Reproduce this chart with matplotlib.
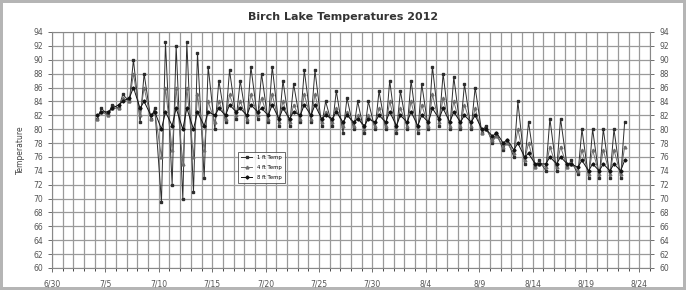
import matplotlib
matplotlib.use("Agg")
import matplotlib.pyplot as plt
import matplotlib.dates as mdates
from matplotlib.ticker import FixedLocator
import numpy as np
import datetime as dt

title = "Birch Lake Temperatures 2012"
ylabel = "Temperature"
series_names = ["1 ft Temp", "4 ft Temp", "8 ft Temp"]

# one reading pair per day: early-morning low and afternoon high (deg F)
start_day = dt.date(2012, 7, 4)
s1_low = [81.5, 82, 83, 84, 81, 81.5, 69.5, 72, 70, 71, 73, 80, 81, 81.5, 81, 81.5, 81,
          80.5, 80.5, 81, 81, 80.5, 80.5, 79.5, 80, 79.5, 80, 80, 79.5, 80, 79.5, 80, 80.5,
          80, 80, 80, 79.5, 78, 77, 76, 75, 74.5, 74, 74, 74.5, 73.5, 73, 73, 73, 73]
s1_high = [83, 83.5, 85, 90, 88, 83, 92.5, 92, 92.5, 91, 89, 87, 88.5, 87, 89, 88, 89,
           87, 86.5, 88.5, 88.5, 84, 85.5, 84.5, 84, 84, 85.5, 87, 85.5, 87, 86.5, 89, 88,
           87.5, 86.5, 86, 80.5, 79.5, 78.5, 84, 81, 75.5, 81.5, 81.5, 75.5, 80, 80, 80, 80, 81]
s2_low = [81.5, 82, 83, 84, 82, 81.5, 76, 77, 75, 76, 77, 81, 81.5, 82, 81.5, 82, 81.5,
          81, 81, 81.5, 81.5, 81, 81, 80.5, 80.5, 80, 80.5, 80.5, 80, 80.5, 80, 80.5, 81,
          80.5, 80.5, 80.5, 79.5, 78.5, 77.5, 76.5, 75.5, 74.5, 74.5, 74.5, 74.5, 74, 73.5, 73.5, 73.5, 73.5]
s2_high = [82.5, 83, 84.5, 88, 86, 82.5, 86, 86, 86, 85, 84, 84, 85, 84, 85, 84.5, 85,
           84, 83.5, 85, 85, 82.5, 83, 82.5, 82, 82, 83, 84, 83, 84, 83.5, 85, 84.5,
           84, 83.5, 83, 80, 79, 78, 80, 78, 75, 77.5, 77.5, 75, 77, 77, 77, 77, 77.5]
s3_low = [82, 82.5, 83.5, 84.5, 83, 82, 80, 80.5, 80, 80, 80.5, 82, 82, 82.5, 82, 82.5, 82,
          81.5, 81.5, 82, 82, 81.5, 81.5, 81, 81, 80.5, 81, 81, 80.5, 81, 80.5, 81, 81.5,
          81, 81, 81, 80, 79, 78, 77, 76, 75, 75, 75, 75, 74.5, 74, 74, 74, 74]
s3_high = [82.5, 83, 84, 86, 84, 82.5, 82.5, 83, 83, 82.5, 82.5, 83, 83.5, 83, 83.5, 83, 83.5,
           83, 82.5, 83.5, 83.5, 82, 82.5, 82, 81.5, 81.5, 82, 82.5, 82, 82.5, 82, 83, 83,
           82.5, 82, 82, 80, 79.5, 78.5, 78, 76.5, 75, 76, 76, 75, 75.5, 75, 75, 75, 75.5]

x_start = dt.datetime(2012, 6, 30)
x_end = dt.datetime(2012, 8, 25)
x_last_label = dt.datetime(2012, 8, 24)
x_label_step_days = 5
y_min, y_max, y_step = 60, 94, 2


def build(lows, highs):
    t, v = [], []
    for i, (lo, hi) in enumerate(zip(lows, highs)):
        d = dt.datetime.combine(start_day, dt.time()) + dt.timedelta(days=i)
        t.append(d + dt.timedelta(hours=6))
        v.append(lo)
        t.append(d + dt.timedelta(hours=15))
        v.append(hi)
    return t, v


fig = plt.figure(figsize=(6.86, 2.90), dpi=100)
fig.patch.set_edgecolor("#b5b5b5")
fig.patch.set_linewidth(3)
ax = fig.add_axes([52 / 686, 22 / 290, 598 / 686, 236 / 290])

styles = [
    dict(color="#2e2e2e", marker="s", ms=2.0),
    dict(color="#6e6e6e", marker="^", ms=2.0),
    dict(color="#111111", marker="D", ms=1.6),
]
for name, lo, hi, st in zip(series_names, [s1_low, s2_low, s3_low],
                            [s1_high, s2_high, s3_high], styles):
    t, v = build(lo, hi)
    ax.plot(t, v, lw=0.7, label=name, color=st["color"], marker=st["marker"],
            ms=st["ms"], mfc=st["color"], mec=st["color"])

ax.set_xlim(x_start, x_end)
ax.set_ylim(y_min, y_max)
n_days = (x_last_label - x_start).days
major_dates = [x_start + dt.timedelta(days=k) for k in range(0, n_days + 1, x_label_step_days)]
ax.xaxis.set_major_locator(FixedLocator(mdates.date2num(major_dates)))
ax.xaxis.set_major_formatter(mdates.DateFormatter("%-m/%-d"))
ax.xaxis.set_minor_locator(mdates.DayLocator())
ax.set_yticks(np.arange(y_min, y_max + 1, y_step))

ax.grid(True, which="both", axis="x", color="#9a9a9a", lw=0.9)
ax.grid(True, which="major", axis="y", color="#9a9a9a", lw=0.9)
ax.set_axisbelow(True)

ax.tick_params(axis="both", labelsize=5.5, colors="#555555", length=3, width=0.6)
ax.tick_params(axis="x", which="minor", length=2, width=0.5)
ax.tick_params(axis="x", pad=5)
ax.tick_params(axis="y", right=True, labelright=True)
for sp in ax.spines.values():
    sp.set_color("#888888")
    sp.set_linewidth(0.8)

ax.set_ylabel(ylabel, fontsize=5.5, color="#444444", labelpad=6)
fig.text(0.5, 1 - 17 / 290, title, ha="center", va="center", fontsize=8,
         fontweight="bold", color="#333333")

leg = ax.legend(loc="lower left", bbox_to_anchor=(0.306, 0.35), fontsize=3.8,
                frameon=True, fancybox=False, edgecolor="#444444",
                handlelength=2.2, borderpad=0.6, labelspacing=0.9)
leg.get_frame().set_linewidth(0.7)

fig.savefig("out.png", dpi=100, edgecolor=fig.get_edgecolor())
